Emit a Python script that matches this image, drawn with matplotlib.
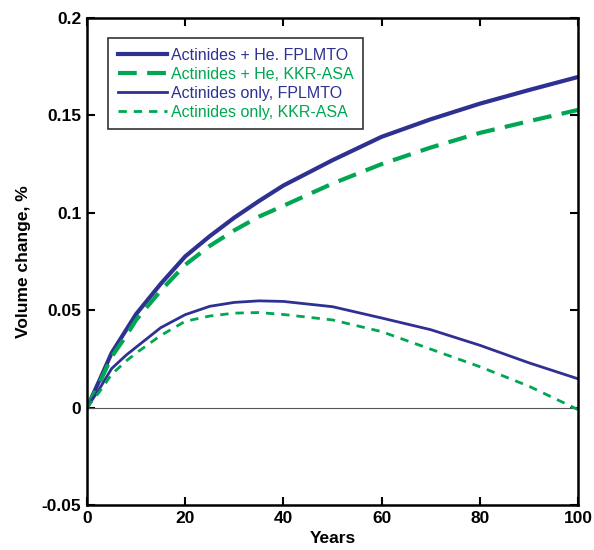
import matplotlib
matplotlib.use("Agg")
import matplotlib.pyplot as plt

plt.rcParams["font.family"] = ["Liberation Sans", "DejaVu Sans"]

BLUE = "#2E3192"
GREEN = "#00A651"

years = [0, 2.5, 5, 8, 10, 15, 20, 25, 30, 35, 40, 50, 60, 70, 80, 90, 100]
he_fplmto = [0.0, 0.0138, 0.028, 0.040, 0.048, 0.0635, 0.0776, 0.088, 0.0975, 0.106, 0.114, 0.127, 0.139, 0.148, 0.156, 0.163, 0.1697]
he_kkr = [0.0, 0.0125, 0.026, 0.037, 0.045, 0.060, 0.0733, 0.083, 0.091, 0.098, 0.1036, 0.115, 0.125, 0.1335, 0.141, 0.147, 0.1528]
only_fplmto = [0.0, 0.0095, 0.020, 0.027, 0.031, 0.041, 0.0477, 0.052, 0.054, 0.0548, 0.0545, 0.0518, 0.046, 0.040, 0.032, 0.023, 0.0148]
only_kkr = [0.0, 0.008, 0.017, 0.024, 0.028, 0.037, 0.0443, 0.047, 0.0485, 0.0488, 0.0478, 0.045, 0.039, 0.030, 0.021, 0.011, -0.001]

fig = plt.figure(figsize=(5.94, 5.5), dpi=100)
ax = fig.add_axes([0.1465, 0.0818, 0.8265, 0.8855])

ax.axhline(0, color="#555555", linewidth=0.8)
ax.plot(years, he_fplmto, color=BLUE, linewidth=3.0, label="Actinides + He. FPLMTO")
ax.plot(years, he_kkr, color=GREEN, linewidth=3.0, linestyle=(0, (4.5, 2.5)), label="Actinides + He, KKR-ASA")
ax.plot(years, only_fplmto, color=BLUE, linewidth=2.0, label="Actinides only, FPLMTO")
ax.plot(years, only_kkr, color=GREEN, linewidth=2.0, linestyle=(0, (3, 2.5)), label="Actinides only, KKR-ASA")

ax.set_xlim(0, 100)
ax.set_ylim(-0.05, 0.2)
ax.set_xticks([0, 20, 40, 60, 80, 100])
ax.set_yticks([-0.05, 0, 0.05, 0.1, 0.15, 0.2])
ax.set_yticklabels(["-0.05", "0", "0.05", "0.1", "0.15", "0.2"])
ax.tick_params(direction="in", length=6, width=1.5, labelsize=12.5, pad=4,
               top=True, right=True)
for label in ax.get_xticklabels() + ax.get_yticklabels():
    label.set_fontweight("bold")
for spine in ax.spines.values():
    spine.set_linewidth(1.8)

ax.set_xlabel("Years", fontsize=12.5, fontweight="bold", labelpad=4)
ax.set_ylabel("Volume change, %", fontsize=12.5, fontweight="bold", labelpad=8)

leg = ax.legend(loc="upper left", bbox_to_anchor=(0.0428, 0.959), fontsize=11.5,
                frameon=True, fancybox=False, edgecolor="black", handlelength=3.1,
                handletextpad=0.25, labelspacing=0.25, borderpad=0.6, borderaxespad=0)
leg.get_frame().set_linewidth(1.2)
for text, color in zip(leg.get_texts(), [BLUE, GREEN, BLUE, GREEN]):
    text.set_color(color)

fig.savefig("out.png", dpi=100)
